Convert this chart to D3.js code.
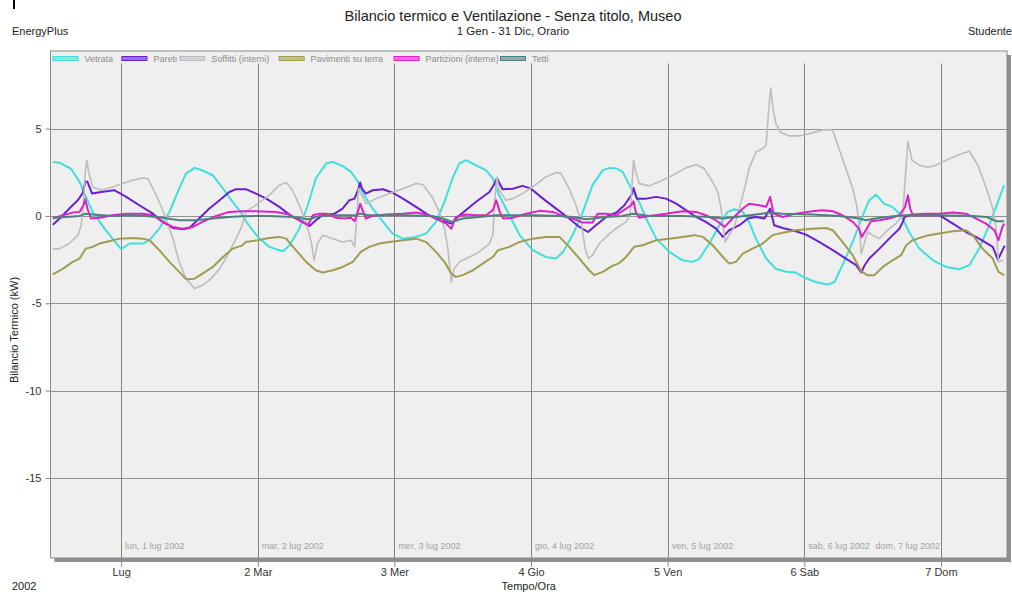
<!DOCTYPE html>
<html>
<head>
<meta charset="utf-8">
<script src="https://cdn.jsdelivr.net/npm/d3@7"></script>
<style>
  body { margin: 0; background: #fff; }
  text { font-family: "Liberation Sans", Arial, sans-serif; }
</style>
</head>
<body>
<svg id="chart" width="1012" height="595"></svg>
<script>
// Hourly heat balance by surface type, week 1-7 July 2002.
// Each sample: [hours since 30 Jun 2002 12:00, kW]
const seriesNames = ["Vetrata", "Pareti", "Soffitti (interni)", "Pavimenti su terra", "Partizioni (interne)", "Tetti"];
const seriesColors = ["#3fe0dc", "#6a1fd0", "#bdbdbd", "#a09c52", "#dc22c8", "#4f8080"];

const vetrata = [[0,3.09],[1.2,3.05],[3.2,2.7],[4.7,1.95],[5.7,1.18],[7,0.23],[9.1,-0.73],[10.5,-1.3],[12,-1.9],[13.5,-1.58],[15.8,-1.58],[17,-1.39],[18.7,-0.73],[20.5,0.23],[22.2,1.56],[23.4,2.42],[24.9,2.75],[26.3,2.6],[28.1,2.33],[29.9,1.56],[31.6,0.8],[33.2,0.13],[34,-0.34],[36,-1.2],[38,-1.77],[40.4,-2.02],[41.6,-1.68],[43.3,-0.73],[44.8,0.61],[46.2,2.14],[48,3.0],[49.2,3.09],[50.9,2.86],[52.4,2.52],[53.6,1.95],[54.7,1.18],[56.2,0.42],[58,-0.34],[59.7,-1.01],[61.5,-1.3],[63.8,-1.2],[65.6,-1.0],[67.3,-0.34],[68.8,0.8],[70.2,2.14],[71.4,3.0],[72.6,3.19],[74.3,2.9],[76.1,2.62],[77.3,2.14],[78.4,1.18],[80.2,0.04],[82,-1.1],[84.3,-1.96],[86.6,-2.35],[88.4,-2.44],[89.6,-2.06],[91.3,-1.1],[93.1,0.23],[94.8,1.76],[96.6,2.62],[97.8,2.75],[99,2.72],[100.1,2.52],[101.6,1.56],[103,0.8],[104.2,-0.15],[106,-1.3],[108.3,-2.06],[110.6,-2.54],[112.4,-2.63],[113.6,-2.44],[115.3,-1.58],[117.1,-0.53],[118.5,0.23],[119.7,0.38],[121.2,0.23],[122.3,-0.34],[123.5,-1.3],[125.3,-2.44],[127,-3.02],[128.8,-3.2],[130.5,-3.24],[132.3,-3.57],[134,-3.78],[136.1,-3.93],[137.3,-3.78],[138.7,-2.82],[140.5,-1.49],[142.3,0.04],[143.4,0.9],[144.6,1.22],[146,0.7],[147.5,0.52],[149,0.04],[150.4,-0.92],[152.2,-1.87],[154.6,-2.54],[156.9,-2.92],[159.2,-3.05],[161,-2.82],[162.7,-1.87],[164.5,-0.53],[166,0.8],[167.1,1.76]];

const pareti = [[0,-0.5],[1.2,-0.15],[2.9,0.42],[4.4,0.9],[5.3,1.33],[5.7,1.95],[6.1,1.95],[6.9,1.28],[8.5,1.37],[10.8,1.47],[12.9,1.09],[15.2,0.61],[17.6,0.13],[19.3,-0.34],[21.1,-0.69],[22.8,-0.76],[24,-0.69],[25.7,-0.15],[27.5,0.42],[29.3,0.9],[31,1.37],[32.2,1.53],[33.9,1.53],[35.7,1.28],[37.5,0.99],[39.8,0.52],[42.1,-0.06],[43.9,-0.34],[45.1,-0.57],[46.2,-0.25],[47.4,0.04],[49.5,0.13],[50.9,0.42],[52.1,0.9],[53,0.99],[53.6,1.47],[54,1.91],[54.3,1.56],[55,1.28],[56.2,1.47],[58,1.53],[59.7,1.33],[61.5,0.99],[63.8,0.52],[65.6,0.13],[67.3,-0.15],[70,-0.44],[71.1,-0.06],[74.3,0.8],[76.7,1.37],[77.6,1.85],[78,2.17],[79,1.53],[80.8,1.56],[82.5,1.72],[84,1.56],[86.1,0.99],[88.4,0.42],[90.7,-0.15],[92.5,-0.63],[94,-0.92],[95.4,-0.53],[97.2,-0.06],[99,0.2],[100.4,0.61],[101.6,1.18],[102,1.6],[102.6,0.99],[104.2,0.99],[106,1.09],[107.7,0.99],[109.5,0.7],[111.2,0.33],[113,-0.06],[114.7,-0.34],[116.5,-0.73],[117.7,-1.2],[118.8,-0.82],[120.6,-0.53],[122.1,-0.15],[123.5,-0.06],[125,-0.15],[126,0.42],[126.7,-0.53],[128.2,-0.69],[130.5,-0.88],[132.3,-1.07],[134.6,-1.49],[137,-1.96],[139.3,-2.44],[141.1,-2.82],[142,-3.24],[142.6,-2.82],[143.4,-2.44],[145.2,-1.87],[146.9,-1.3],[148.7,-0.73],[149.3,-0.34],[149.6,-0.06],[150.4,0.04],[155.7,0.04],[158.1,-0.44],[160.4,-0.92],[162.7,-1.3],[165.1,-1.77],[166,-2.5],[167.2,-1.7]];

const soffitti = [[0,-1.9],[1.2,-1.87],[2.9,-1.58],[4.4,-1.1],[5,-0.53],[5.4,0.8],[5.7,2.52],[6,3.19],[6.3,2.52],[7,1.66],[8.5,1.47],[10.5,1.66],[12.3,1.85],[14,2.04],[15.8,2.17],[16.7,2.14],[17.6,1.56],[18.7,0.8],[19.9,-0.15],[21.1,-1.3],[22.2,-2.63],[23.4,-3.59],[24.9,-4.16],[26.3,-3.97],[27.8,-3.59],[29.3,-3.02],[30.7,-2.25],[32.2,-1.3],[33.2,-0.6],[33.9,0.23],[36,0.7],[38,1.18],[39.8,1.76],[41,1.91],[42.1,1.47],[43.3,0.61],[44.5,-0.34],[45.4,-1.49],[45.9,-2.54],[46.5,-1.58],[47.4,-1.1],[49.2,-1.3],[50.9,-1.49],[52.4,-1.39],[53,-1.77],[53.4,-0.15],[53.7,1.56],[55,0.7],[56.8,0.99],[59.1,1.28],[61.5,1.56],[63.8,1.85],[65,1.8],[66.6,1.1],[67.9,0.23],[68.8,-0.73],[69.4,-1.87],[70,-3.78],[70.5,-3.02],[71.4,-2.63],[73.2,-2.35],[74.9,-2.06],[76.7,-1.58],[77.3,-1.1],[77.6,0.8],[78,2.23],[78.4,1.47],[79.6,0.9],[80.8,0.99],[82.5,1.28],[84.3,1.66],[86.6,2.23],[88.4,2.48],[89.3,2.42],[90.7,1.56],[91.9,0.61],[92.8,-0.34],[93.5,-1.87],[94.1,-2.44],[94.8,-2.25],[96,-1.58],[97.8,-1.01],[98.9,-0.73],[100.7,-0.34],[101.4,0.04],[101.7,1.56],[102,3.19],[102.4,2.52],[103,1.85],[104.8,1.72],[106.5,1.95],[108.9,2.33],[111.2,2.75],[113,2.94],[114.4,2.71],[115.9,1.95],[116.8,1.37],[117.4,0.42],[117.8,-0.73],[118.1,-1.49],[118.8,-1.1],[119.7,-0.63],[120.6,0.42],[121.5,1.56],[122.3,2.71],[123.5,3.66],[124.7,3.85],[125.3,4.05],[125.7,5.95],[126.1,7.33],[126.5,6.14],[127,5.28],[127.9,4.77],[129.4,4.58],[131.1,4.58],[132.9,4.71],[134,4.81],[135.5,4.94],[137,4.9],[138.1,3.85],[139.3,2.71],[140.5,1.56],[141.2,0.61],[141.7,-0.73],[142,-2.16],[142.6,-1.49],[143.1,-0.92],[144,-1.1],[145.2,-1.3],[146.6,-0.82],[148.1,-0.44],[149.3,0.04],[149.6,1.56],[150.2,4.27],[150.9,3.19],[152.2,2.9],[153.7,2.79],[155.1,2.9],[156.9,3.19],[159.2,3.51],[161,3.7],[162.5,2.9],[164,1.56],[165.1,0.42],[165.7,-0.73],[166.1,-2.63],[166.9,-2.54]];

const pavimenti = [[0,-3.34],[1.8,-3.02],[3.5,-2.63],[4.7,-2.44],[5.8,-1.87],[7,-1.77],[8.2,-1.58],[9.9,-1.45],[11.7,-1.3],[14,-1.26],[15.8,-1.3],[17,-1.39],[18.7,-1.96],[20.5,-2.63],[22.2,-3.2],[23.4,-3.62],[24.9,-3.59],[26.3,-3.3],[28.1,-2.92],[29.9,-2.35],[31.6,-1.87],[33.2,-1.7],[33.9,-1.49],[36,-1.39],[38,-1.26],[39.8,-1.2],[41,-1.3],[42.7,-1.96],[44.5,-2.63],[46.2,-3.11],[47.4,-3.24],[49.2,-3.11],[50.9,-2.92],[52.7,-2.63],[54.1,-2.06],[55.6,-1.77],[57.4,-1.58],[59.1,-1.49],[61.5,-1.39],[63.8,-1.3],[65.6,-1.5],[67.3,-2.06],[68.8,-2.63],[70,-3.3],[70.8,-3.49],[72,-3.39],[73.8,-3.11],[75.5,-2.73],[77.3,-2.35],[78.2,-1.96],[80.2,-1.77],[82,-1.49],[84.3,-1.3],[86.6,-1.2],[89,-1.2],[90.7,-1.77],[92.5,-2.44],[94.2,-3.11],[95.1,-3.39],[96.6,-3.2],[98.3,-2.86],[99.5,-2.7],[100.7,-2.35],[102.1,-1.77],[103.6,-1.68],[106,-1.39],[108.3,-1.3],[110.6,-1.2],[112.7,-1.1],[114.2,-1.2],[115.9,-1.68],[117.7,-2.35],[118.8,-2.73],[120,-2.63],[121.2,-2.16],[122.9,-1.87],[124.7,-1.58],[126.4,-1.1],[128.2,-0.96],[130.5,-0.82],[133.4,-0.73],[135.8,-0.69],[137,-0.82],[138.7,-1.49],[140.5,-2.25],[142,-3.17],[143.1,-3.39],[144.3,-3.39],[145.8,-2.92],[147.5,-2.54],[149,-2.25],[149.9,-1.68],[151,-1.39],[153.4,-1.14],[155.7,-1.01],[158.1,-0.88],[160.4,-0.82],[161.6,-1.1],[163.3,-1.87],[165.1,-2.44],[166.1,-3.2],[167.1,-3.39]];

const partizioni = [[0,-0.15],[1.8,0.04],[3.5,0.19],[4.7,0.23],[5.4,0.61],[5.7,0.96],[6.1,0.42],[6.7,-0.15],[8.2,-0.11],[10.5,0.04],[12.9,0.13],[15.8,0.13],[17.6,0.04],[19.3,-0.34],[21.1,-0.63],[22.8,-0.73],[24.6,-0.63],[26.3,-0.34],[28.7,0],[31,0.23],[33.2,0.27],[35.7,0.27],[39.2,0.23],[41.6,0.08],[43.3,-0.25],[44.8,-0.53],[45.7,0.04],[46.8,0.13],[48,0.13],[49.8,-0.11],[51.2,-0.15],[52.4,-0.11],[53,-0.3],[53.4,0.04],[54,0.7],[54.4,0.33],[55,-0.15],[56.2,0],[58.5,0.08],[61.5,0.13],[63.8,0.19],[65.6,0.1],[67.3,-0.15],[69.1,-0.44],[70,-0.73],[70.8,-0.06],[72.6,0.08],[74.3,0.04],[76.1,0.04],[77.3,0.33],[77.9,0.9],[78.5,0.23],[79.1,-0.15],[80.8,-0.11],[83.1,0.13],[85.5,0.29],[87.8,0.23],[89.6,0],[91.3,-0.15],[93.1,-0.38],[94.8,-0.38],[95.7,0.13],[97.2,0.13],[98.9,0.04],[100.7,0.42],[101.6,0.61],[102,0.84],[102.4,0.23],[103,-0.11],[104.8,0],[107.7,0.13],[110.6,0.27],[113,0.23],[114.7,0.04],[116.5,-0.25],[118,-0.63],[119.4,-0.15],[121.2,0.42],[122.3,0.7],[124.1,0.61],[125.3,0.52],[126,1.09],[126.6,0.13],[128.2,-0.06],[130.5,0.13],[133.4,0.27],[135.2,0.33],[137,0.27],[138.7,0.04],[140.5,-0.34],[141.6,-0.73],[142.1,-1.2],[142.8,-0.82],[143.7,-0.3],[145.2,-0.25],[146.9,-0.15],[148.7,0.04],[149.7,0.52],[150.2,1.18],[150.6,0.42],[151,0.08],[153.4,0.13],[155.7,0.13],[158.1,0.19],[160.4,0.13],[162.2,-0.15],[163.9,-0.44],[165.4,-0.82],[166.1,-1.39],[166.8,-0.63],[167.1,-0.44]];

const tetti = [[0,-0.11],[2.4,-0.06],[4.7,0],[5.8,0.13],[7,0.08],[10.5,0],[13.5,0.04],[16.4,0],[19.3,-0.11],[22.2,-0.25],[25.2,-0.25],[28.1,-0.15],[31,-0.06],[33.2,-0.02],[38,0],[42.1,-0.06],[43.9,-0.15],[45.1,-0.19],[46.8,0],[49.8,0.04],[53.3,0.04],[54,0.13],[55.6,0.04],[61.5,0.04],[66.6,0],[68.5,-0.15],[70.2,-0.34],[72,-0.15],[74.9,-0.06],[77.9,0.04],[84.3,0.04],[89,0],[91.3,-0.06],[93.7,-0.19],[94.8,-0.15],[97.2,-0.06],[100,0],[101.9,0.13],[104.8,0],[110.6,0],[115.3,-0.06],[117.7,-0.15],[120,-0.06],[123.5,0.08],[125.9,0.19],[128.2,0.13],[133.4,0.08],[138.1,0],[141.7,-0.15],[142.8,-0.25],[145.2,-0.11],[148.1,0],[149.9,0.04],[155.7,0.04],[161.6,0],[164,-0.06],[165.7,-0.3],[167.1,-0.3]];

const yTicks = [5, 0, -5, -10, -15];
const dayTickLabels = ["Lug", "2 Mar", "3 Mer", "4 Gio", "5 Ven", "6 Sab", "7 Dom"];
const dayNotes = ["lun, 1 lug 2002", "mar, 2 lug 2002", "mer, 3 lug 2002", "gio, 4 lug 2002", "ven, 5 lug 2002", "sab, 6 lug 2002", "dom, 7 lug 2002"];

const allSeries = [vetrata, pareti, soffitti, pavimenti, partizioni, tetti];

// ---- layout ----
const svg = d3.select("#chart");
const plot = { left: 50.5, right: 1007, top: 51, bottom: 558 };
const t0 = Date.UTC(2002, 5, 30, 12);
const at = h => new Date(t0 + h * 3600e3);

const x = d3.scaleUtc().domain([at(-0.4), at(167.6)]).range([plot.left, plot.right]);
const y = d3.scaleLinear().domain([-19.58, 9.44]).range([plot.bottom, plot.top]);
const days = d3.utcDay.range(Date.UTC(2002, 6, 1), Date.UTC(2002, 6, 8));

// header texts
svg.append("rect").attr("x", 13).attr("y", 0).attr("width", 2).attr("height", 9).attr("fill", "#000");
svg.append("text").attr("x", 513).attr("y", 21).attr("text-anchor", "middle")
  .attr("font-size", 14.5).attr("fill", "#222").text("Bilancio termico e Ventilazione - Senza titolo, Museo");
svg.append("text").attr("x", 513).attr("y", 35).attr("text-anchor", "middle")
  .attr("font-size", 11.5).attr("fill", "#222").text("1 Gen - 31 Dic, Orario");
svg.append("text").attr("x", 12).attr("y", 35).attr("font-size", 11).attr("fill", "#222").text("EnergyPlus");
svg.append("text").attr("x", 1012).attr("y", 35).attr("text-anchor", "end").attr("font-size", 11).attr("fill", "#222").text("Studente");

// plot panel with drop shadow
const pw = plot.right - plot.left, ph = plot.bottom - plot.top;
svg.append("rect").attr("x", plot.left + 4).attr("y", plot.top + 4).attr("width", pw).attr("height", ph)
  .attr("fill", "#8e8e8e");
svg.append("rect").attr("x", plot.left).attr("y", plot.top).attr("width", pw).attr("height", ph)
  .attr("fill", "#efefef");

// grid
const grid = svg.append("g");
grid.selectAll(".hg").data(yTicks).join("line")
  .attr("x1", plot.left).attr("x2", plot.right)
  .attr("y1", d => Math.round(y(d)) + 0.5).attr("y2", d => Math.round(y(d)) + 0.5)
  .attr("stroke", "#929292").attr("stroke-width", 1);
grid.selectAll(".vg").data(days).join("line")
  .attr("x1", d => Math.round(x(d)) + 0.5).attr("x2", d => Math.round(x(d)) + 0.5)
  .attr("y1", plot.top).attr("y2", plot.bottom)
  .attr("stroke", "#858585").attr("stroke-width", 1);

// day captions along the bottom of the panel
svg.append("g").selectAll("text").data(days).join("text")
  .attr("x", (d, i) => i === days.length - 1 ? x(d) - 1 : x(d) + 4)
  .attr("y", 549)
  .attr("text-anchor", (d, i) => i === days.length - 1 ? "end" : "start")
  .attr("font-size", 9).attr("fill", "#a2a2a2")
  .text((d, i) => dayNotes[i]);

// series lines
svg.append("defs").append("clipPath").attr("id", "clip")
  .append("rect").attr("x", plot.left).attr("y", plot.top).attr("width", pw).attr("height", ph);
const line = d3.line().x(d => x(at(d[0]))).y(d => y(d[1]));
svg.append("g").attr("clip-path", "url(#clip)")
  .selectAll("path").data(allSeries).join("path")
  .attr("d", line)
  .attr("fill", "none")
  .attr("stroke", (d, i) => seriesColors[i])
  .attr("stroke-width", (d, i) => i === 2 ? 1.6 : 2)
  .attr("stroke-linejoin", "round");

// legend strip across the top of the panel
const legendX = [52.5, 121.4, 179.3, 278.6, 393.6, 500];
svg.append("rect").attr("x", plot.left + 0.5).attr("y", plot.top + 0.5).attr("width", pw - 1).attr("height", 12)
  .attr("fill", "#efefef");
const leg = svg.append("g").selectAll("g").data(seriesNames).join("g")
  .attr("transform", (d, i) => `translate(${legendX[i]},59)`);
leg.append("rect").attr("x", 0.5).attr("y", -2.5).attr("width", 25).attr("height", 4)
  .attr("fill", (d, i) => d3.interpolateRgb(seriesColors[i], "#ffffff")(0.35))
  .attr("stroke", (d, i) => seriesColors[i]).attr("stroke-width", 1);
leg.append("text").attr("x", 32).attr("y", 3).attr("font-size", 9).attr("fill", "#8c8c8c").text(d => d);

// panel border
svg.append("rect").attr("x", plot.left).attr("y", plot.top).attr("width", pw).attr("height", ph)
  .attr("fill", "none").attr("stroke", "#8a8a8a").attr("stroke-width", 1);

// y axis
const yAxis = svg.append("g").attr("transform", `translate(${plot.left},0)`)
  .call(d3.axisLeft(y).tickValues(yTicks).tickSize(5).tickPadding(4).tickFormat(d => String(d)));
yAxis.select(".domain").remove();
yAxis.selectAll("line").attr("stroke", "#8a8a8a");
yAxis.selectAll("text").attr("font-size", 11).attr("fill", "#333").attr("font-family", null);

// x axis
const xAxis = svg.append("g").attr("transform", `translate(0,${plot.bottom + 4})`)
  .call(d3.axisBottom(x).tickValues(days).tickSize(5).tickPadding(1).tickFormat((d, i) => dayTickLabels[i]));
xAxis.select(".domain").remove();
xAxis.selectAll("line").attr("stroke", "#8a8a8a");
xAxis.selectAll("text").attr("font-size", 11).attr("fill", "#333").attr("font-family", null);

// axis titles
svg.append("text").attr("transform", "translate(18,330) rotate(-90)").attr("text-anchor", "middle")
  .attr("font-size", 11).attr("fill", "#222").text("Bilancio Termico (kW)");
svg.append("text").attr("x", (plot.left + plot.right) / 2).attr("y", 590).attr("text-anchor", "middle")
  .attr("font-size", 11).attr("fill", "#222").text("Tempo/Ora");
svg.append("text").attr("x", 12).attr("y", 590).attr("font-size", 11).attr("fill", "#222").text("2002");
</script>
</body>
</html>
